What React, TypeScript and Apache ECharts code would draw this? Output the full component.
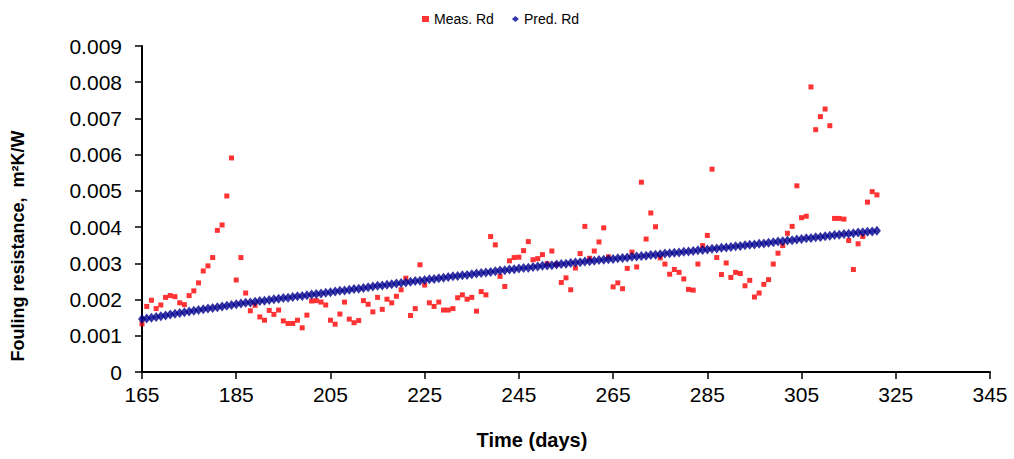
import React, { useEffect, useRef } from "react";
import * as echarts from "echarts";

const startDay = 165;

// Measured fouling resistance (m²K/W), one value per day from day 165
const measured = [
  0.00133, 0.00181, 0.00198, 0.00175, 0.00185, 0.00206, 0.00211, 0.00208, 0.00191, 0.00186,
  0.00211, 0.00224, 0.00246, 0.00279, 0.00293, 0.00316, 0.00391, 0.00406, 0.00486, 0.00591,
  0.00254, 0.00316, 0.00218, 0.00169, 0.00184, 0.00152, 0.00143, 0.0017, 0.00159, 0.00171,
  0.00141, 0.00134, 0.00134, 0.00143, 0.00122, 0.00157, 0.00196, 0.00197, 0.00193, 0.00185,
  0.00143, 0.00132, 0.0016, 0.00193, 0.00146, 0.00136, 0.00142, 0.00197, 0.00187, 0.00166,
  0.00206, 0.00173, 0.00201, 0.00191, 0.00209, 0.00227, 0.00259, 0.00156, 0.00175, 0.00296,
  0.0024, 0.00191, 0.00181, 0.00193, 0.00171, 0.00171, 0.00175, 0.00205, 0.00213, 0.00201,
  0.00206, 0.00168, 0.00222, 0.00213, 0.00374, 0.00351, 0.00264, 0.00236, 0.00307, 0.00316,
  0.00317, 0.00335, 0.0036, 0.0031, 0.00313, 0.00324, 0.00299, 0.00334, 0.00297, 0.00247,
  0.0026, 0.00227, 0.00287, 0.00327, 0.00402, 0.00314, 0.00334, 0.00359, 0.00398, 0.00318,
  0.00235, 0.00246, 0.0023, 0.00286, 0.00331, 0.0029, 0.00524, 0.00367, 0.00439, 0.00401,
  0.00315, 0.00298, 0.0027, 0.00283, 0.00275, 0.00257, 0.00228, 0.00226, 0.00298, 0.00349,
  0.00377, 0.0056, 0.00316, 0.00269, 0.00301, 0.00261, 0.00275, 0.00272, 0.00238, 0.00253,
  0.00207, 0.00218, 0.00242, 0.00255, 0.00298, 0.00328, 0.00349, 0.00383, 0.00402, 0.00514,
  0.00426, 0.0043, 0.00787, 0.00669, 0.00705, 0.00726, 0.0068, 0.00424, 0.00424, 0.00422,
  0.00363, 0.00283, 0.00354, 0.00374, 0.00469, 0.00498, 0.00489,
];

// Predicted fouling resistance (m²K/W), one value per day from day 165
const predicted = [
  0.00146, 0.00148, 0.0015, 0.00152, 0.00154, 0.00156, 0.00159, 0.00161, 0.00163, 0.00165,
  0.00167, 0.00169, 0.00171, 0.00173, 0.00175, 0.00177, 0.00179, 0.00181, 0.00183, 0.00185,
  0.00187, 0.00189, 0.00191, 0.00192, 0.00194, 0.00196, 0.00197, 0.00199, 0.00201, 0.00202,
  0.00204, 0.00205, 0.00207, 0.00209, 0.0021, 0.00212, 0.00214, 0.00215, 0.00217, 0.00219,
  0.0022, 0.00222, 0.00224, 0.00225, 0.00227, 0.00229, 0.0023, 0.00232, 0.00234, 0.00236,
  0.00238, 0.00239, 0.00241, 0.00242, 0.00244, 0.00246, 0.00247, 0.00249, 0.00251, 0.00252,
  0.00254, 0.00256, 0.00257, 0.00259, 0.0026, 0.00262, 0.00264, 0.00265, 0.00267, 0.00268,
  0.0027, 0.00272, 0.00273, 0.00275, 0.00276, 0.00278, 0.0028, 0.00281, 0.00283, 0.00284,
  0.00286, 0.00287, 0.00288, 0.0029, 0.00291, 0.00293, 0.00294, 0.00295, 0.00297, 0.00298,
  0.00299, 0.00301, 0.00302, 0.00303, 0.00305, 0.00306, 0.00307, 0.00309, 0.0031, 0.00311,
  0.00312, 0.00314, 0.00315, 0.00316, 0.00318, 0.00319, 0.0032, 0.00321, 0.00323, 0.00324,
  0.00325, 0.00327, 0.00328, 0.00329, 0.0033, 0.00332, 0.00333, 0.00334, 0.00336, 0.00337,
  0.00338, 0.0034, 0.00341, 0.00343, 0.00344, 0.00345, 0.00347, 0.00348, 0.0035, 0.00351,
  0.00352, 0.00354, 0.00355, 0.00357, 0.00358, 0.0036, 0.00361, 0.00363, 0.00364, 0.00366,
  0.00367, 0.00369, 0.0037, 0.00372, 0.00373, 0.00375, 0.00376, 0.00378, 0.00379, 0.00381,
  0.00382, 0.00383, 0.00385, 0.00386, 0.00387, 0.00388, 0.0039,
];

const seriesNames = ["Meas. Rd", "Pred. Rd"];
const xTitle = "Time (days)";
const yTitle = "Fouling resistance,  m²K/W";

const FONT = "'Liberation Sans', Arial, sans-serif";

export default function App() {
  const ref = useRef<HTMLDivElement>(null);

  useEffect(() => {
    if (!ref.current) return;
    const chart = echarts.init(ref.current, null, { renderer: "svg" });
    const measData = measured.map((v, i) => [startDay + i, v]);
    const predData = predicted.map((v, i) => [startDay + i, v]);

    chart.setOption({
      animation: false,
      backgroundColor: "#ffffff",
      textStyle: { fontFamily: FONT },
      legend: {
        left: 417,
        top: 7,
        itemGap: 18,
        itemWidth: 7,
        itemHeight: 6,
        textStyle: { fontSize: 14, color: "#000", fontFamily: FONT },
        data: [
          { name: seriesNames[0], icon: "rect", itemStyle: { color: "#ff0000" } },
          { name: seriesNames[1], icon: "diamond", itemStyle: { color: "#000099" } },
        ],
      },
      grid: { left: 142, right: 24, top: 46, bottom: 87, containLabel: false },
      graphic: [
        {
          type: "text",
          x: 532,
          y: 440,
          style: {
            text: xTitle,
            fontSize: 20,
            fontWeight: "bold",
            fontFamily: FONT,
            fill: "#000",
            align: "center",
            verticalAlign: "middle",
          },
        },
        {
          type: "text",
          x: 18,
          y: 246,
          rotation: Math.PI / 2,
          style: {
            text: yTitle,
            fontSize: 18,
            fontWeight: "bold",
            fontFamily: FONT,
            fill: "#000",
            align: "center",
            verticalAlign: "middle",
          },
        },
      ],
      xAxis: {
        type: "value",
        min: 165,
        max: 345,
        interval: 20,
        axisLine: { show: true, onZero: false, lineStyle: { color: "#000", width: 2 } },
        axisTick: { show: true, inside: false, length: 7, lineStyle: { color: "#000", width: 1.5 } },
        axisLabel: { fontSize: 21, color: "#000", margin: 12, fontFamily: FONT },
        splitLine: { show: false },
      },
      yAxis: {
        type: "value",
        min: 0,
        max: 0.009,
        interval: 0.001,
        axisLine: { show: true, lineStyle: { color: "#000", width: 2 } },
        axisTick: { show: true, inside: false, length: 7, lineStyle: { color: "#000", width: 1.5 } },
        axisLabel: {
          fontSize: 21,
          color: "#000",
          margin: 20,
          fontFamily: FONT,
          formatter: (v: number) => (v === 0 ? "0" : v.toFixed(3)),
        },
        splitLine: { show: false },
      },
      series: [
        {
          name: seriesNames[0],
          type: "scatter",
          symbol: "rect",
          symbolSize: 5,
          itemStyle: { color: "#ff0000" },
          data: measData,
          z: 2,
        },
        {
          name: seriesNames[1],
          type: "scatter",
          symbol: "diamond",
          symbolSize: [8, 10],
          itemStyle: { color: "#00008f" },
          data: predData,
          z: 3,
        },
      ],
    });
    return () => chart.dispose();
  }, []);

  return (
    <div
      ref={ref}
      style={{ position: "absolute", left: 0, top: 0, width: 1014, height: 459 }}
    />
  );
}
